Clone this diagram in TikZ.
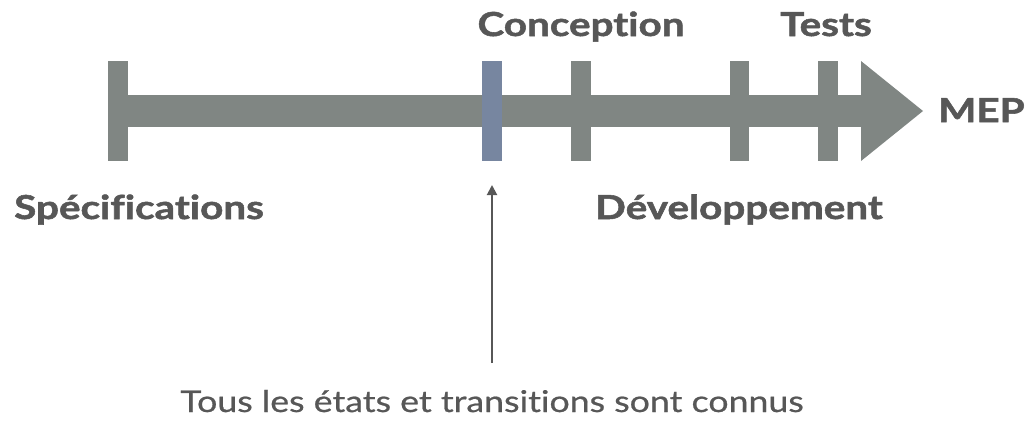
\documentclass[tikz,border=0pt]{standalone}
\usepackage{fontspec}
\setmainfont{Lato}[Ligatures=NoCommon, FakeStretch=1.19, FakeBold=0.7,
  BoldFeatures={FakeStretch=1.225, FakeBold=1.6}]
\usetikzlibrary{arrows.meta}
\definecolor{bargray}{HTML}{808683}
\definecolor{tickblue}{HTML}{7786A0}
\definecolor{txtgray}{HTML}{575757}
\tikzset{
  tick/.style={fill=bargray, draw=none},
  phase/.style={font=\fontsize{33}{36}\selectfont\bfseries, text=txtgray, inner sep=0pt, anchor=base},
  note/.style={font=\fontsize{30}{34}\selectfont, text=txtgray, inner sep=0pt, anchor=base},
  pointer/.style={draw=txtgray, line width=2pt, -{Triangle[length=10pt,width=10pt]}}
}
\begin{document}
\begin{tikzpicture}[x=1pt,y=-1pt]
\useasboundingbox (0,0) rectangle (1025,424);
% main bar and arrowhead
\fill[bargray] (118,95) rectangle (862,127);
\fill[bargray] (861,61) -- (923,111) -- (861,161) -- cycle;
% ticks
\fill[tick] (108,61) rectangle (128,161);
\node[fill=tickblue, minimum width=20pt, minimum height=100pt, inner sep=0pt] (milestone) at (492,111) {};
\fill[tick] (571,61) rectangle (591,161);
\fill[tick] (730,61) rectangle (749,161);
\fill[tick] (818,61) rectangle (838,161);
% labels
\node[phase] (conc) at (581,36) {Conception};
\node[phase] (tests) at (826,36) {Tests};
\node[phase, anchor=base west] (mep) at (938,122) {MEP};
\node[phase, anchor=base west] (spec) at (14,219) {Spécifications};
\node[phase, anchor=base west] (dev) at (595,219) {Développement};
\node[note] (tous) at (492,412) {Tous les états et transitions sont connus};
\coordinate (tip) at (492,185);
\coordinate (tail) at (492,363);
\draw[pointer] (tail) -- (tip);
\end{tikzpicture}
\end{document}
